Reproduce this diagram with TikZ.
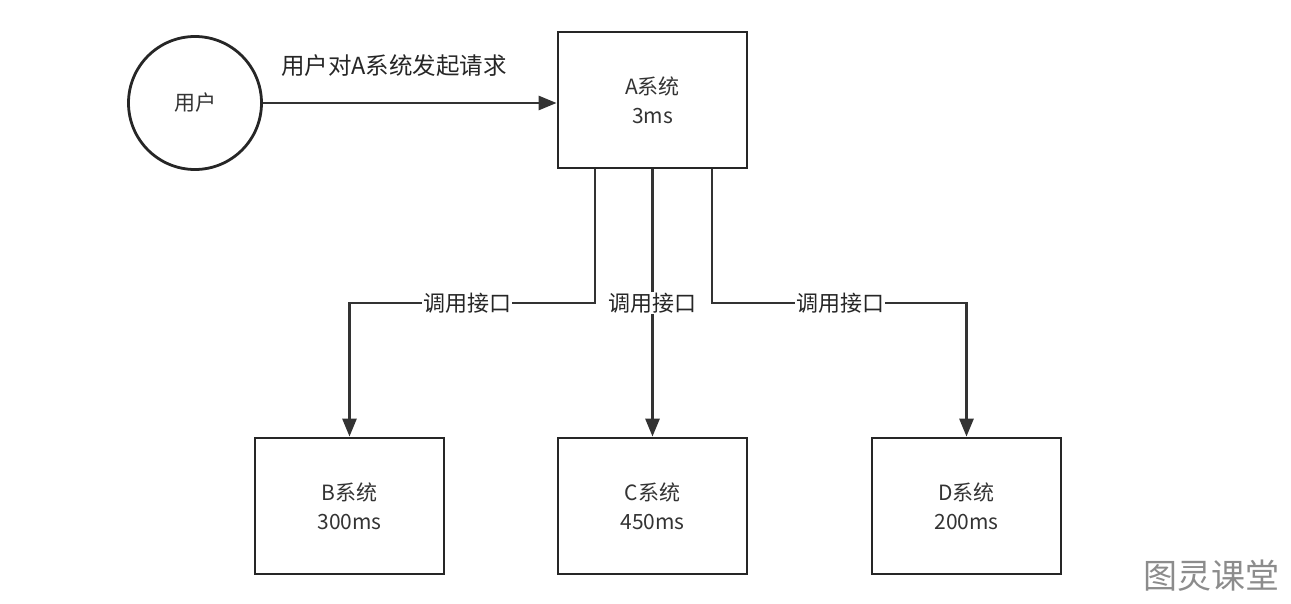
\documentclass[tikz,border=0pt]{standalone}
\usepackage{fontspec}
\setmainfont{Noto Sans CJK SC}
\usetikzlibrary{arrows.meta}
\begin{document}
\begin{tikzpicture}[x=1pt,y=-1pt,
  box/.style={draw=black!85,line width=2.8pt,minimum width=189pt,minimum height=136pt,align=center,font=\fontsize{21}{29}\selectfont,text=black!80},
  conn/.style={draw=black!80,line width=2.8pt,-{Triangle[length=18pt,width=14pt]}},
  lbl/.style={fill=white,inner sep=1pt,font=\fontsize{22}{24}\selectfont,text=black!85}]
\useasboundingbox (0,0) rectangle (1291,604);
\node[draw=black!85,line width=2.8pt,circle,minimum size=133pt,font=\fontsize{21}{24}\selectfont,text=black!80] (u) at (195,103) {用户};
\node[box] (A) at (652.5,100) {A系统\\3ms};
\node[box] (B) at (349.5,506) {B系统\\300ms};
\node[box] (C) at (652.5,506) {C系统\\450ms};
\node[box] (D) at (966.5,506) {D系统\\200ms};
\draw[conn] (u) -- (A.west |- u);
\node[font=\fontsize{23.5}{26}\selectfont,text=black!85] (t) at (394,66) {用户对A系统发起请求};
\coordinate (a1) at (595,303);
\coordinate (a3) at (712,303);
\draw[conn] (A.south -| a1) -- (a1) -- (a1 -| B) -- (B.north);
\draw[conn] (A.south) -- (C.north);
\draw[conn] (A.south -| a3) -- (a3) -- (a3 -| D) -- (D.north);
\node[lbl] (l1) at (467,303) {调用接口};
\node[lbl] (l2) at (652.5,303) {调用接口};
\node[lbl] (l3) at (840,303) {调用接口};
\node[font=\fontsize{34}{38}\selectfont,text=black!45] (wm) at (1211,576) {图灵课堂};
\end{tikzpicture}
\end{document}
